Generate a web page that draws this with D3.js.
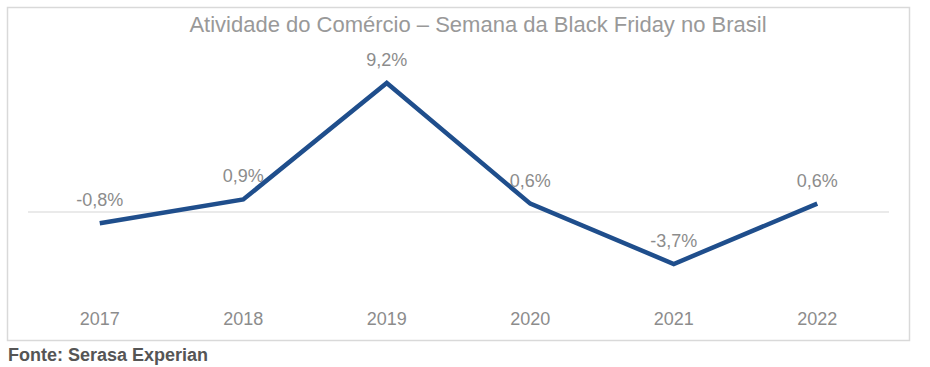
<!DOCTYPE html>
<html><head><meta charset="utf-8">
<script src="https://cdn.jsdelivr.net/npm/d3@7"></script>
<style>body{margin:0;background:#fff}svg{display:block}</style>
</head><body><svg id="c" width="930" height="367"></svg>
<script>
const categories = ["2017","2018","2019","2020","2021","2022"];
const values = [-0.8, 0.9, 9.2, 0.6, -3.7, 0.6];
const valueLabels = ["-0,8%","0,9%","9,2%","0,6%","-3,7%","0,6%"];
const title = "Atividade do Comércio – Semana da Black Friday no Brasil";
const source = "Fonte: Serasa Experian";

const svg = d3.select("#c");
const font = "'Liberation Sans', Arial, sans-serif";

svg.append("rect").attr("x",7.5).attr("y",7.5).attr("width",902).attr("height",333)
  .attr("fill","#fff").attr("stroke","#d9d9d9").attr("stroke-width",1.5);

svg.append("text").attr("x",478).attr("y",32).attr("text-anchor","middle")
  .attr("font-family",font).attr("font-size",22).attr("fill","#999999").text(title);

const x = d3.scaleBand().domain(categories).range([28,889]).padding(0);
const y = d3.scaleLinear().domain([-3.7,9.2]).range([264,83]);
const cx = d => x(d) + x.bandwidth()/2;

svg.append("line").attr("x1",28).attr("x2",889).attr("y1",y(0)).attr("y2",y(0))
  .attr("stroke","#e3e3e3").attr("stroke-width",1.5);

const line = d3.line().x((d,i)=>cx(categories[i])).y(d=>y(d));
svg.append("path").datum(values).attr("d",line).attr("fill","none")
  .attr("stroke","#1f4e8c").attr("stroke-width",4.5).attr("stroke-linejoin","miter");

svg.selectAll(".vl").data(values).enter().append("text")
  .attr("x",(d,i)=>cx(categories[i])).attr("y",d=>y(d)-17)
  .attr("text-anchor","middle").attr("font-family",font).attr("font-size",18)
  .attr("fill","#8c8c8c").text((d,i)=>valueLabels[i]);

const xAxis = d3.axisBottom(x).tickSize(0).tickPadding(0);
const g = svg.append("g").attr("transform","translate(0,311)").call(xAxis);
g.select(".domain").remove();
g.selectAll("text").attr("font-family",font).attr("font-size",18).attr("fill","#8c8c8c").attr("dy","0.8em");

svg.append("text").attr("x",8).attr("y",361).attr("font-family",font).attr("font-size",18)
  .attr("font-weight","bold").attr("fill","#555555").text(source);
</script></body></html>
